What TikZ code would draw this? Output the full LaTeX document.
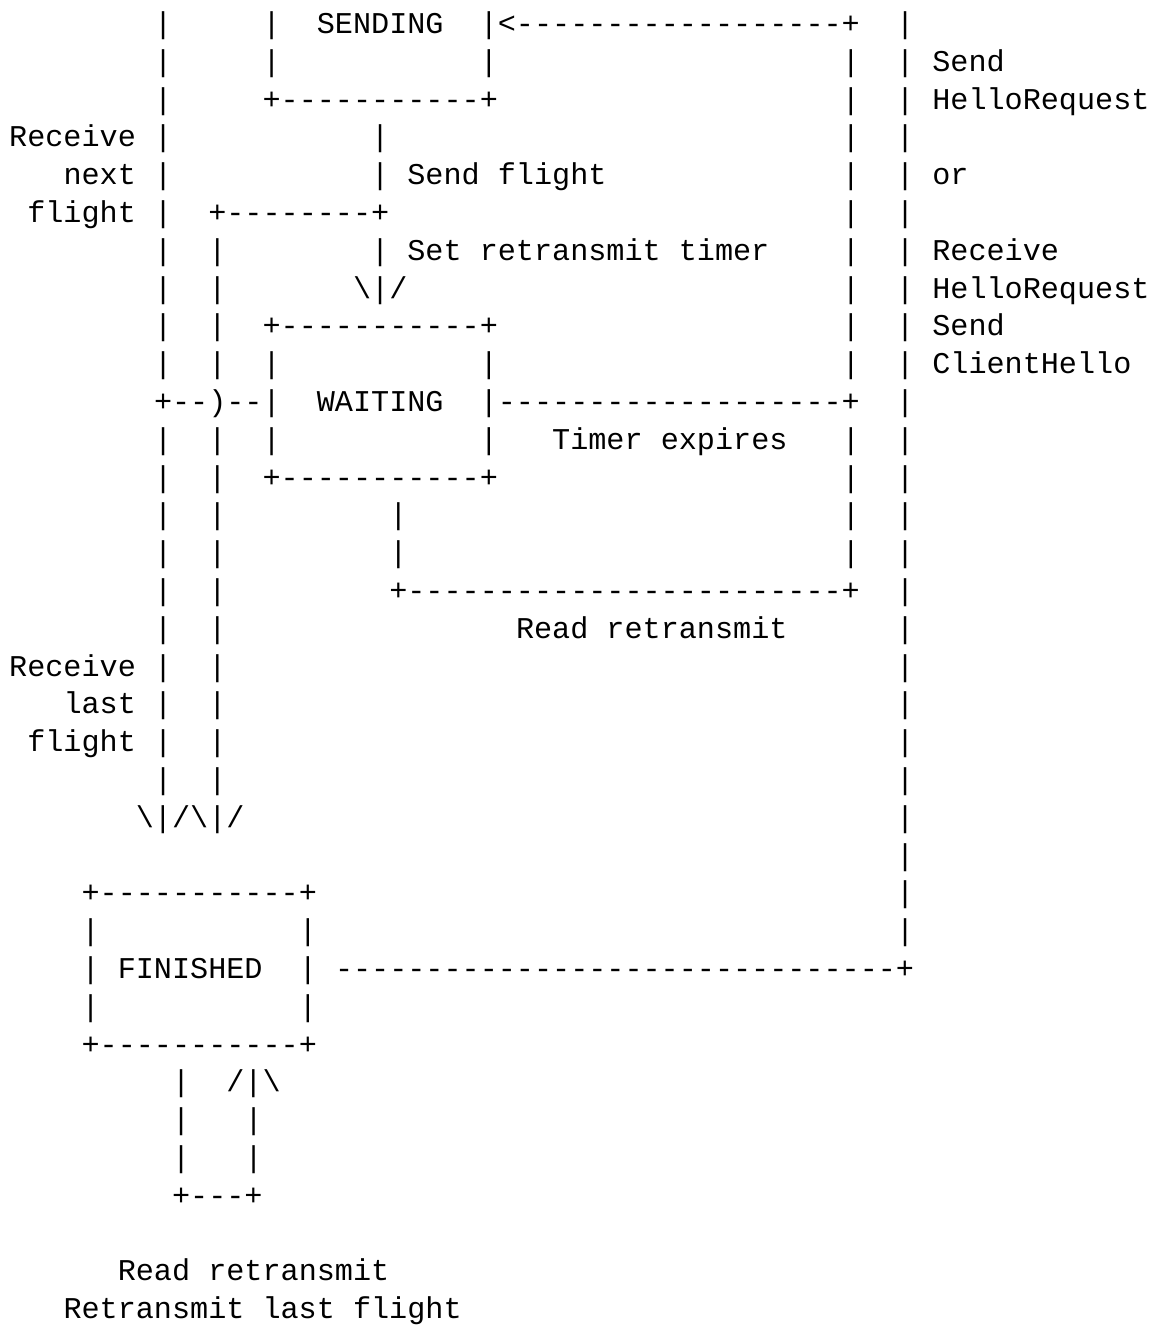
\documentclass[tikz,border=0pt]{standalone}
\usepackage{fontspec}
\setmonofont{Liberation Mono}
\tikzset{asc/.style={anchor=base west,inner sep=0pt,outer sep=0pt,font=\ttfamily\fontsize{30.16pt}{37.8pt}\selectfont}}
\newcommand\A[3]{\node[asc] (r#1c#2) at ({9.2pt+#2*18.1pt},{-33.5pt-#1*37.8pt}) {#3};}
\newcommand\bs{\textbackslash}
\begin{document}
\begin{tikzpicture}
\useasboundingbox (0,0) rectangle (1158pt,-1326pt);
% row 0
\A{0}{8}{|}\A{0}{14}{|}\A{0}{17}{SENDING}\A{0}{26}{|<------------------+}\A{0}{49}{|}
% row 1
\A{1}{8}{|}\A{1}{14}{|}\A{1}{26}{|}\A{1}{46}{|}\A{1}{49}{|}\A{1}{51}{Send}
% row 2
\A{2}{8}{|}\A{2}{14}{+-----------+}\A{2}{46}{|}\A{2}{49}{|}\A{2}{51}{HelloRequest}
% row 3
\A{3}{0}{Receive}\A{3}{8}{|}\A{3}{20}{|}\A{3}{46}{|}\A{3}{49}{|}
% row 4
\A{4}{3}{next}\A{4}{8}{|}\A{4}{20}{| Send flight}\A{4}{46}{|}\A{4}{49}{|}\A{4}{51}{or}
% row 5
\A{5}{1}{flight}\A{5}{8}{|}\A{5}{11}{+--------+}\A{5}{46}{|}\A{5}{49}{|}
% row 6
\A{6}{8}{|}\A{6}{11}{|}\A{6}{20}{| Set retransmit timer}\A{6}{46}{|}\A{6}{49}{|}\A{6}{51}{Receive}
% row 7
\A{7}{8}{|}\A{7}{11}{|}\A{7}{19}{\bs|/}\A{7}{46}{|}\A{7}{49}{|}\A{7}{51}{HelloRequest}
% row 8
\A{8}{8}{|}\A{8}{11}{|}\A{8}{14}{+-----------+}\A{8}{46}{|}\A{8}{49}{|}\A{8}{51}{Send}
% row 9
\A{9}{8}{|}\A{9}{11}{|}\A{9}{14}{|}\A{9}{26}{|}\A{9}{46}{|}\A{9}{49}{|}\A{9}{51}{ClientHello}
% row 10
\A{10}{8}{+--)--|}\A{10}{17}{WAITING}\A{10}{26}{|-------------------+}\A{10}{49}{|}
% row 11
\A{11}{8}{|}\A{11}{11}{|}\A{11}{14}{|}\A{11}{26}{|}\A{11}{30}{Timer expires}\A{11}{46}{|}\A{11}{49}{|}
% row 12
\A{12}{8}{|}\A{12}{11}{|}\A{12}{14}{+-----------+}\A{12}{46}{|}\A{12}{49}{|}
% rows 13-14
\A{13}{8}{|}\A{13}{11}{|}\A{13}{21}{|}\A{13}{46}{|}\A{13}{49}{|}
\A{14}{8}{|}\A{14}{11}{|}\A{14}{21}{|}\A{14}{46}{|}\A{14}{49}{|}
% row 15
\A{15}{8}{|}\A{15}{11}{|}\A{15}{21}{+------------------------+}\A{15}{49}{|}
% row 16
\A{16}{8}{|}\A{16}{11}{|}\A{16}{28}{Read retransmit}\A{16}{49}{|}
% rows 17-20
\A{17}{0}{Receive}\A{17}{8}{|}\A{17}{11}{|}\A{17}{49}{|}
\A{18}{3}{last}\A{18}{8}{|}\A{18}{11}{|}\A{18}{49}{|}
\A{19}{1}{flight}\A{19}{8}{|}\A{19}{11}{|}\A{19}{49}{|}
\A{20}{8}{|}\A{20}{11}{|}\A{20}{49}{|}
% row 21-22
\A{21}{7}{\bs|/\bs|/}\A{21}{49}{|}
\A{22}{49}{|}
% FINISHED box
\A{23}{4}{+-----------+}\A{23}{49}{|}
\A{24}{4}{|}\A{24}{16}{|}\A{24}{49}{|}
\A{25}{4}{|}\A{25}{6}{FINISHED}\A{25}{16}{|}\A{25}{18}{-------------------------------+}
\A{26}{4}{|}\A{26}{16}{|}
\A{27}{4}{+-----------+}
% loop
\A{28}{9}{|}\A{28}{12}{/|\bs}
\A{29}{9}{|}\A{29}{13}{|}
\A{30}{9}{|}\A{30}{13}{|}
\A{31}{9}{+---+}
% bottom labels
\A{33}{6}{Read retransmit}
\A{34}{3}{Retransmit last flight}
\end{tikzpicture}
\end{document}
